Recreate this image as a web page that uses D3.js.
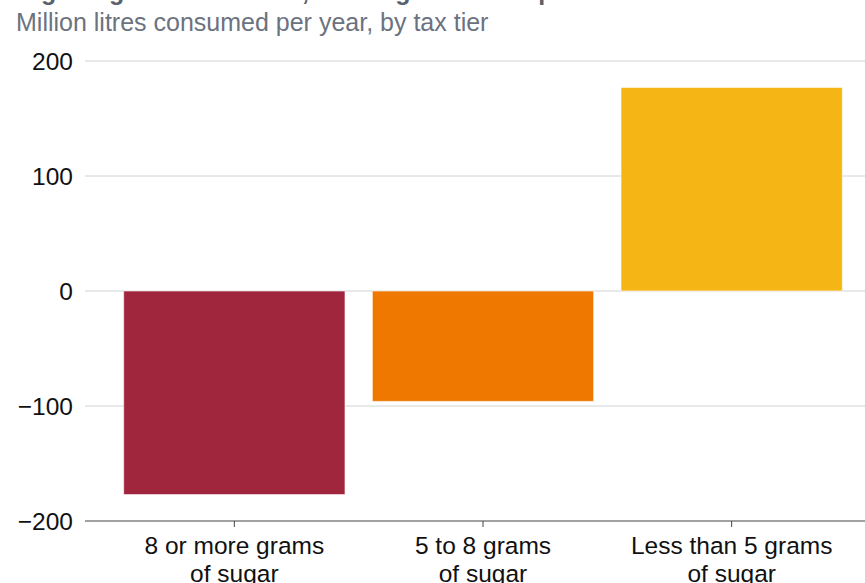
<!DOCTYPE html>
<html>
<head>
<meta charset="utf-8">
<script src="https://cdn.jsdelivr.net/npm/d3@7"></script>
<style>
  html, body { margin: 0; padding: 0; background: #fff; }
  svg { display: block; font-family: "Liberation Sans", Arial, Helvetica, sans-serif; }
</style>
</head>
<body>
<svg id="chart" width="865" height="583"></svg>
<script>
// Change in consumption by sugar tax tier
const categories = [["8 or more grams", "of sugar"], ["5 to 8 grams", "of sugar"], ["Less than 5 grams", "of sugar"]];
const values = [-177, -96, 177];
const colors = ["#a0263e", "#ef7900", "#f5b514"];
const yTicks = [-200, -100, 0, 100, 200];

const title = "High-sugar drinks down, low-sugar drinks up";
const subtitle = "Million litres consumed per year, by tax tier";

const svg = d3.select("#chart");
const W = 865, H = 583;

const x = d3.scaleBand()
  .domain(d3.range(categories.length))
  .range([110, 856])
  .paddingInner(0.11)
  .paddingOuter(0.055);

const y = d3.scaleLinear().domain([-200, 200]).range([521, 61]);

// Title and subtitle
svg.append("text")
  .attr("x", 16).attr("y", 0)
  .attr("font-size", 25).attr("font-weight", "bold")
  .attr("fill", "#5a616b")
  .text(title);
svg.append("text")
  .attr("x", 16).attr("y", 31)
  .attr("font-size", 25)
  .attr("fill", "#6b7280")
  .text(subtitle);

// Gridlines
svg.append("g")
  .selectAll("line")
  .data(yTicks.filter(d => d !== -200))
  .join("line")
  .attr("x1", 85).attr("x2", W)
  .attr("y1", d => y(d)).attr("y2", d => y(d))
  .attr("stroke", "#d0d2d5").attr("stroke-width", 1);

// Y tick labels
svg.append("g")
  .selectAll("text")
  .data(yTicks)
  .join("text")
  .attr("x", 73)
  .attr("y", d => y(d))
  .attr("dy", "0.36em")
  .attr("text-anchor", "end")
  .attr("font-size", 24.5)
  .attr("fill", "#111")
  .text(d => d < 0 ? "\u2212" + Math.abs(d) : d);

// Bars
svg.append("g")
  .selectAll("rect")
  .data(values)
  .join("rect")
  .attr("x", (d, i) => x(i))
  .attr("width", x.bandwidth())
  .attr("y", d => y(Math.max(0, d)))
  .attr("height", d => Math.abs(y(d) - y(0)))
  .attr("fill", (d, i) => colors[i])
  .attr("stroke", "#fff")
  .attr("stroke-opacity", 0.6)
  .attr("stroke-width", 1);

// X axis baseline with ticks and two-line labels
const xAxis = svg.append("g");
xAxis.append("line")
  .attr("x1", 85).attr("x2", W)
  .attr("y1", y(-200)).attr("y2", y(-200))
  .attr("stroke", "#444").attr("stroke-width", 1.2);
const tick = xAxis.selectAll("g.tick")
  .data(categories)
  .join("g")
  .attr("class", "tick")
  .attr("transform", (d, i) => `translate(${x(i) + x.bandwidth() / 2},${y(-200)})`);
tick.append("line").attr("y1", 0).attr("y2", 6).attr("stroke", "#444");
tick.append("text")
  .attr("text-anchor", "middle")
  .attr("font-size", 24.5)
  .attr("fill", "#111")
  .selectAll("tspan")
  .data(d => d)
  .join("tspan")
  .attr("x", 0)
  .attr("y", (d, i) => 33 + i * 28)
  .text(d => d);
</script>
</body>
</html>
